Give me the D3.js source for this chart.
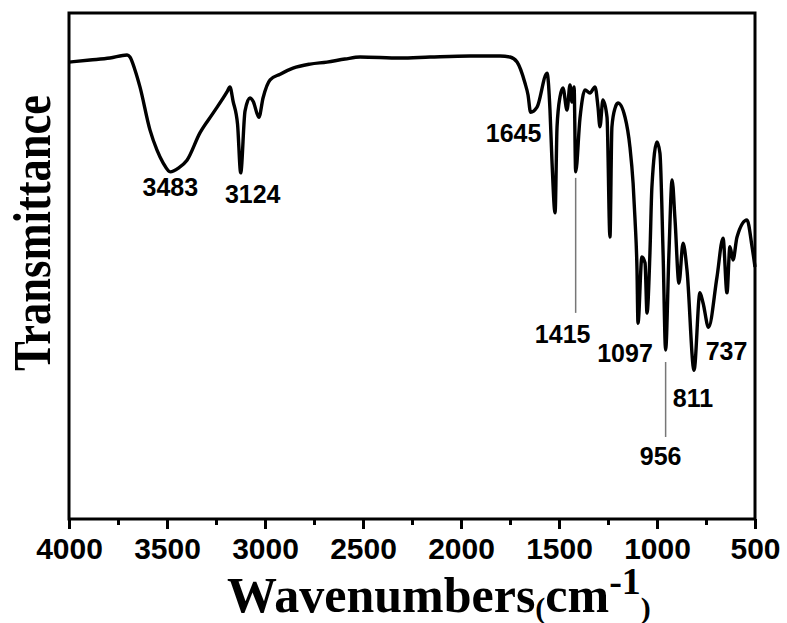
<!DOCTYPE html>
<html>
<head>
<meta charset="utf-8">
<script src="https://cdn.jsdelivr.net/npm/d3@7"></script>
<style>
  body { margin: 0; background: #fff; }
  svg { display: block; }
</style>
</head>
<body>
<div id="chart"></div>
<script>
// FTIR spectrum (transmittance in arbitrary %)
const wavenumber = [
  4000, 3893, 3791, 3704, 3689, 3663, 3638, 3587, 3551, 3520, 3483, 3440, 3398,
  3332, 3265, 3194, 3179, 3163, 3140, 3124, 3102, 3077, 3061, 3031, 3010, 2974,
  2923, 2857, 2770, 2684, 2592, 2515, 2311, 2158, 1954, 1801, 1750, 1714, 1674,
  1658, 1645, 1612, 1561, 1546, 1536, 1520, 1510, 1495, 1480, 1459, 1444, 1434,
  1423, 1415, 1393, 1367, 1342, 1316, 1301, 1291, 1276, 1255, 1240, 1230, 1214,
  1199, 1163, 1138, 1122, 1112, 1102, 1097, 1077, 1061, 1051, 1036, 1026, 1000,
  985, 969, 956, 939, 923, 908, 888, 867, 847, 811, 781, 765, 737, 694, 663,
  643, 628, 612, 592, 541, 515, 500
];
const transmittance = [
  90.3, 90.7, 91.1, 91.7, 91.3, 88.7, 85.4, 76.9, 72.9, 70.4, 68.6, 69.4, 70.9,
  76.3, 80.2, 84.4, 85.4, 82.6, 78.0, 68.4, 80.6, 83.2, 82.6, 79.4, 83.2, 86.8,
  87.9, 89.1, 89.9, 90.3, 90.9, 91.3, 91.1, 91.3, 91.5, 91.5, 91.3, 90.3, 86.2,
  83.8, 80.4, 81.4, 88.1, 80.8, 70.9, 60.5, 77.5, 83.4, 85.2, 80.8, 85.8, 82.4,
  85.4, 68.6, 79.2, 84.8, 84.2, 85.4, 81.4, 77.5, 82.8, 79.4, 55.7, 77.5, 81.2,
  82.2, 79.4, 73.5, 66.4, 59.1, 49.2, 38.7, 51.8, 50.6, 40.7, 52.6, 65.6, 74.5,
  72.3, 52.6, 33.4, 52.6, 67.0, 59.1, 46.6, 54.5, 49.2, 29.4, 44.7, 42.7, 37.9,
  47.8, 55.5, 44.7, 53.8, 51.2, 55.7, 59.1, 53.8, 49.8
];
const xTicks = [4000, 3500, 3000, 2500, 2000, 1500, 1000, 500];
const peaks = [3483, 3124, 1645, 1415, 1097, 956, 811, 737];

const W = 787, H = 623;
const m = { left: 69, right: 32, top: 13, bottom: 104 };

const svg = d3.select("#chart").append("svg")
  .attr("width", W).attr("height", H);

const x = d3.scaleLinear().domain([4000, 500]).range([m.left, W - m.right]);
const y = d3.scaleLinear().domain([0, 100]).range([H - m.bottom, m.top]);

const data = wavenumber.map((w, i) => ({ w: w, t: transmittance[i] }));

// frame
svg.append("rect")
  .attr("x", x(4000)).attr("y", y(100))
  .attr("width", x(500) - x(4000)).attr("height", y(0) - y(100))
  .attr("fill", "none").attr("stroke", "#000").attr("stroke-width", 3);

// bottom axis: major + minor ticks
const minor = d3.range(3750, 500, -500);
svg.append("g")
  .attr("transform", `translate(0,${y(0)})`)
  .call(d3.axisBottom(x).tickValues(minor).tickSize(6).tickFormat(""))
  .call(g => g.select(".domain").remove())
  .call(g => g.selectAll("line").attr("stroke-width", 3));

const xAxis = svg.append("g")
  .attr("transform", `translate(0,${y(0)})`)
  .call(d3.axisBottom(x).tickValues(xTicks).tickSize(10).tickPadding(9).tickFormat(d3.format("d")));
xAxis.select(".domain").remove();
xAxis.selectAll("line").attr("stroke-width", 3);
xAxis.selectAll("text")
  .attr("font-family", "Liberation Sans, Arial, sans-serif")
  .attr("font-weight", "bold").attr("font-size", 30).attr("fill", "#000");

// spectrum
const line = d3.line()
  .x(d => x(d.w)).y(d => y(d.t))
  .curve(d3.curveMonotoneX);

svg.append("path").datum(data)
  .attr("d", line)
  .attr("fill", "none").attr("stroke", "#000")
  .attr("stroke-width", 3.4).attr("stroke-linejoin", "round");

// peak labels (offsets from each minimum, in px)
const tAt = w => data.find(d => d.w === w).t;
const lab = {
  3483: { dx: 0, dy: 24 },
  3124: { dx: 12, dy: 30 },
  1645: { dx: -17, dy: 30 },
  1415: { dx: -13, dy: 171, lead: [6, 141] },
  1097: { dx: -13, dy: 39 },
  956: { dx: -5, dy: 115, lead: [12, 87] },
  811: { dx: -1, dy: 37 },
  737: { dx: 18, dy: 33 }
};

peaks.forEach(p => {
  const px = x(p), py = y(tAt(p)), o = lab[p];
  if (o.lead) {
    svg.append("line")
      .attr("x1", px).attr("x2", px)
      .attr("y1", py + o.lead[0]).attr("y2", py + o.lead[1])
      .attr("stroke", "#777").attr("stroke-width", 1.5);
  }
  svg.append("text")
    .attr("x", px + o.dx).attr("y", py + o.dy)
    .attr("text-anchor", "middle")
    .attr("font-family", "Liberation Sans, Arial, sans-serif")
    .attr("font-weight", "bold").attr("font-size", 25)
    .text(p);
});

// axis titles
svg.append("text")
  .attr("transform", "translate(50,233) rotate(-90) scale(0.84,1)")
  .attr("text-anchor", "middle")
  .attr("font-family", "Liberation Serif, Times New Roman, serif")
  .attr("font-weight", "bold").attr("font-size", 53)
  .text("Transmittance");

const xt = svg.append("text")
  .attr("x", 227).attr("y", 612)
  .attr("font-family", "Liberation Serif, Times New Roman, serif")
  .attr("font-weight", "bold").attr("font-size", 50);
xt.append("tspan").text("Wavenumbers");
xt.append("tspan").attr("font-size", 30).attr("dy", 6).text("(");
xt.append("tspan").attr("dy", -6).text("cm");
xt.append("tspan").attr("font-size", 38).attr("dy", -18).text("-1");
xt.append("tspan").attr("font-size", 30).attr("dy", 24).text(")");
</script>
</body>
</html>
